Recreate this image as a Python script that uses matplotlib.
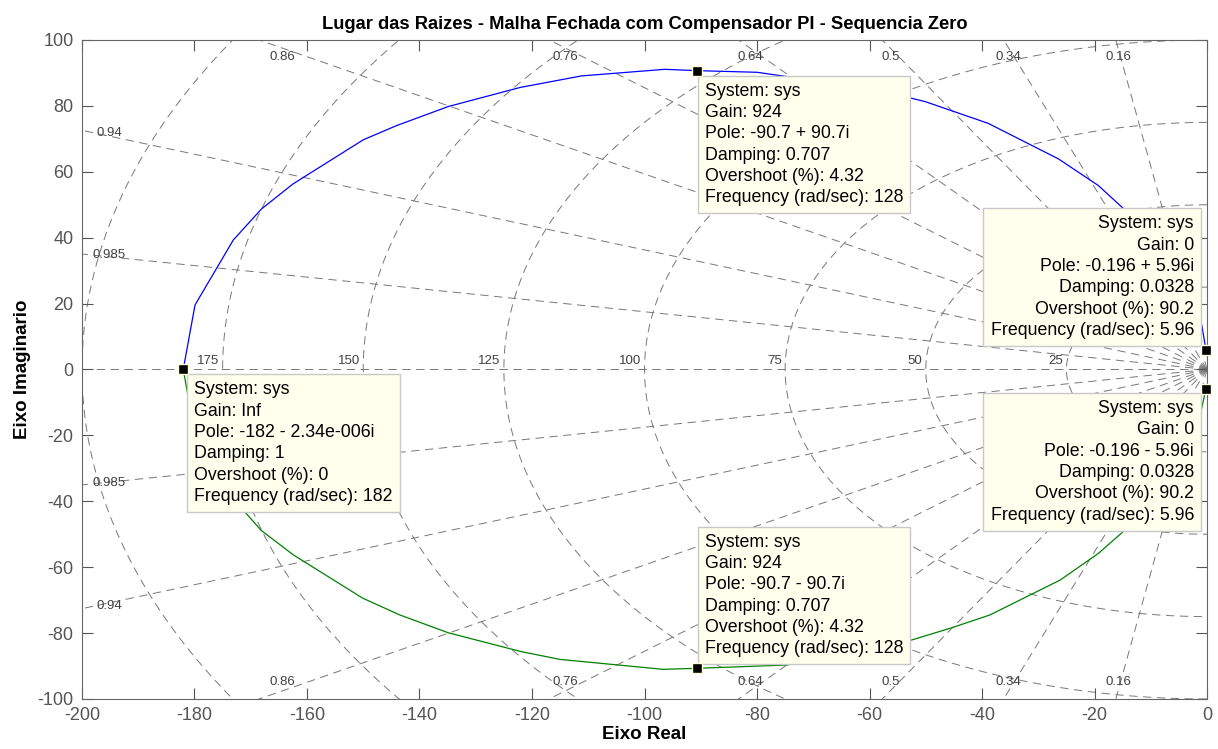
import numpy as np
import matplotlib
matplotlib.use('agg')
import matplotlib.pyplot as plt

plt.rcParams['font.family'] = ['Liberation Sans', 'DejaVu Sans']
plt.rcParams['axes.unicode_minus'] = False
plt.rcParams['lines.scale_dashes'] = False

# root locus branches
upper_re = [-182, -179.9, -173.1, -168.1, -162.5, -150.0, -144.1, -134.9, -122.1, -111.2,
            -96.4, -90.7, -80, -65, -52.5, -50.1, -38.9, -26.4, -19.3, -14.9, -8, -3.5, -0.94, -0.196]
upper_im = [0, 19.6, 39.3, 48.7, 56.3, 69.7, 74.0, 79.8, 85.6, 89.1,
            91.1, 90.7, 90.2, 86.5, 82.3, 81.3, 74.7, 63.9, 55.8, 48.9, 37, 25, 13.5, 5.96]
lower_re = [-182, -179.9, -173.1, -168.1, -162.4, -150.1, -143.5, -134.9, -122, -115.0,
            -96.7, -90.7, -74.7, -65, -52.5, -45.4, -38.6, -26.1, -19.3, -14.9, -8, -3.5, -1.07, -0.196]
lower_im = [0, -19.6, -39.3, -48.9, -56.3, -69.4, -74.5, -79.9, -85.6, -88.0,
            -91.0, -90.7, -89.7, -86.5, -82.1, -78.4, -74.5, -63.9, -55.8, -49.2, -37, -25, -12.6, -5.96]

# sgrid values
zetas = [0.16, 0.34, 0.5, 0.64, 0.76, 0.86, 0.94, 0.985]
wns = [25, 50, 75, 100, 125, 150, 175, 200]
wn_labels = [25, 50, 75, 100, 125, 150, 175]

# data tips
tip_re = [-90.7, -0.196, -0.196, -182, -90.7]
tip_im = [90.7, 5.96, -5.96, 0, -90.7]
tip_texts = [
    "System: sys\nGain: 924\nPole: -90.7 + 90.7i\nDamping: 0.707\nOvershoot (%): 4.32\nFrequency (rad/sec): 128",
    "System: sys\nGain: 0\nPole: -0.196 + 5.96i\nDamping: 0.0328\nOvershoot (%): 90.2\nFrequency (rad/sec): 5.96",
    "System: sys\nGain: 0\nPole: -0.196 - 5.96i\nDamping: 0.0328\nOvershoot (%): 90.2\nFrequency (rad/sec): 5.96",
    "System: sys\nGain: Inf\nPole: -182 - 2.34e-006i\nDamping: 1\nOvershoot (%): 0\nFrequency (rad/sec): 182",
    "System: sys\nGain: 924\nPole: -90.7 - 90.7i\nDamping: 0.707\nOvershoot (%): 4.32\nFrequency (rad/sec): 128",
]
tip_offsets = [(8, -12), (-12, 11), (-12, -11), (11, -12), (8, 11)]
tip_align = [('left', 'top'), ('right', 'bottom'), ('right', 'top'), ('left', 'top'), ('left', 'bottom')]

fig = plt.figure(figsize=(12.18, 7.49), dpi=100)
ax = fig.add_axes([0.0673, 0.0668, 0.9237, 0.8798])

grid_kw = dict(color='#777777', lw=0.7, ls=(0, (6, 4)), zorder=1)
lbl_kw = dict(color='#404040', fontsize=9.5, zorder=2)

# damping rays
ax.plot([-300, 0], [0, 0], **grid_kw)
for z in zetas:
    s = np.sqrt(1 - z ** 2)
    for sign in (1, -1):
        ax.plot([0, -300 * z], [0, sign * 300 * s], **grid_kw)
    slope = s / z
    if 197.5 * slope < 97.5:
        ax.text(-195.1, 197.5 * slope, f'{z:g}', ha='center', va='center', **lbl_kw)
        ax.text(-195.1, -197.5 * slope, f'{z:g}', ha='center', va='center', **lbl_kw)
    else:
        ax.text(-97.5 / slope, 94.8, f'{z:g}', ha='center', va='center', **lbl_kw)
        ax.text(-97.5 / slope, -94.8, f'{z:g}', ha='center', va='center', **lbl_kw)

# natural frequency circles
th = np.linspace(np.pi / 2, 3 * np.pi / 2, 400)
for wn in wns:
    ax.plot(wn * np.cos(th), wn * np.sin(th), **grid_kw)
for wn in wn_labels:
    ax.text(-wn - 0.6, 0.8, str(wn), ha='right', va='bottom', **lbl_kw)

# locus
ax.plot(upper_re, upper_im, color='#0000ff', lw=0.9, zorder=3)
ax.plot(lower_re, lower_im, color='#008000', lw=0.9, zorder=3)

# data tips
for re, im, txt, off, (ha, va) in zip(tip_re, tip_im, tip_texts, tip_offsets, tip_align):
    ax.plot(re, im, 's', color='black', mec='#ffffdd', mew=1.0, ms=7, zorder=6, clip_on=False)
    ax.annotate(txt, xy=(re, im), xytext=off, textcoords='offset pixels', ha=ha, va=va,
                multialignment=ha, fontsize=12.8, linespacing=1.33, zorder=5,
                bbox=dict(boxstyle='square,pad=0.4', fc='#ffffee', ec='#c8c8c8', lw=1.0))

ax.set_xlim(-200, 0)
ax.set_ylim(-100, 100)
ax.set_xticks(np.arange(-200, 1, 20))
ax.set_yticks(np.arange(-100, 101, 20))
ax.tick_params(direction='in', length=8, top=True, right=True, labelsize=13,
               colors='#555555', labelcolor='#555555', pad=6)
for sp in ax.spines.values():
    sp.set_color('#666666')

ax.set_title('Lugar das Raizes - Malha Fechada com Compensador PI - Sequencia Zero',
             fontsize=13.2, fontweight='bold', pad=8)
ax.set_xlabel('Eixo Real', fontsize=13.5, fontweight='bold', labelpad=1)
ax.set_ylabel('Eixo Imaginario', fontsize=13.5, fontweight='bold', labelpad=5)

plt.savefig('out.png', dpi=100)
plt.close()
